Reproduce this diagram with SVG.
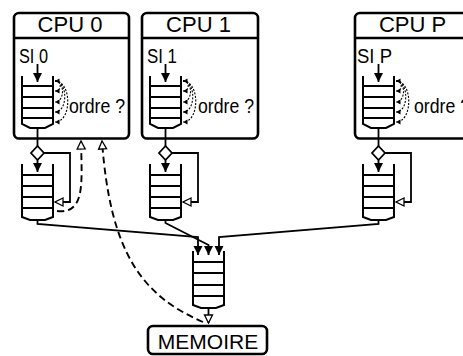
<svg xmlns="http://www.w3.org/2000/svg" width="463" height="356" viewBox="0 0 463 356">
<defs>
<style>
.box{fill:#fff;stroke:#000;stroke-width:2.6}
.sep{stroke:#000;stroke-width:2.6}
.q{fill:none;stroke:#000;stroke-width:2;stroke-linejoin:miter}
.ln{fill:none;stroke:#000;stroke-width:1.8}
.dash{fill:none;stroke:#000;stroke-width:1.9;stroke-dasharray:7,4}
.dot{fill:none;stroke:#000;stroke-width:1.1;stroke-dasharray:2,1.5}
.dia{fill:#fff;stroke:#000;stroke-width:1.8}
.t{font-family:"Liberation Sans",Arial,sans-serif;fill:#000}
.big{font-size:22px}
.si{font-size:20.5px}
.or{font-size:20px}
</style>
<marker id="fa" markerUnits="userSpaceOnUse" markerWidth="10" markerHeight="10" refX="9" refY="4.5" orient="auto" overflow="visible"><path d="M0,0 L9,4.5 L0,9 z" fill="#000"/></marker>
<marker id="oa" markerUnits="userSpaceOnUse" markerWidth="10" markerHeight="10" refX="8" refY="4" orient="auto" overflow="visible"><path d="M0,0 L8,4 L0,8 z" fill="#fff" stroke="#000" stroke-width="1.3"/></marker>
<marker id="da" markerUnits="userSpaceOnUse" markerWidth="6" markerHeight="6" refX="4.5" refY="2.5" orient="auto-start-reverse" overflow="visible"><path d="M0,0 L4.5,2.5 L0,5 z" fill="#000"/></marker>
<g id="cpu-content">
<path class="q" d="M22,76 V124 L30,128 H45 L53,124 V76"/>
<path class="q" d="M22,86 H53 M22,97 H53 M22,108 H53 M22,118 H53"/>
<path class="ln" d="M37.5,64 V82" marker-end="url(#fa)"/>
<path class="dot" d="M55,81 C62,81 62,91 55,91" marker-start="url(#da)" marker-end="url(#da)"/>
<path class="dot" d="M55,81 C65,81 65,102 55,102" marker-end="url(#da)"/>
<path class="dot" d="M55,81 C68,81 68,112 55,112" marker-end="url(#da)"/>
<path class="dot" d="M55,81 C72,81 72,122 55,122" marker-end="url(#da)"/>
</g>
<g id="lq-content">
<path class="q" d="M22,164 V217 L30,220 H45 L53,217 V164"/>
<path class="q" d="M22,175 H53 M22,186 H53 M22,197 H53 M22,208 H53"/>
</g>
</defs>

<g id="cpu0">
<rect class="box" x="14" y="13" width="115" height="125.5" rx="5"/>
<line class="sep" x1="14" y1="38" x2="129" y2="38"/>
<text class="t big" x="70" y="32" text-anchor="middle">CPU 0</text>
<text class="t si" x="19" y="63" textLength="29" lengthAdjust="spacingAndGlyphs">SI 0</text>
<use href="#cpu-content"/>
<text class="t or" x="69" y="113" textLength="56" lengthAdjust="spacingAndGlyphs">ordre ?</text>
</g>

<g id="cpu1">
<rect class="box" x="142" y="13" width="116" height="125.5" rx="5"/>
<line class="sep" x1="142" y1="38" x2="258" y2="38"/>
<text class="t big" x="198.5" y="32" text-anchor="middle">CPU 1</text>
<text class="t si" x="147" y="63" textLength="30" lengthAdjust="spacingAndGlyphs">SI 1</text>
<use href="#cpu-content" transform="translate(128,0)"/>
<text class="t or" x="198" y="113" textLength="56" lengthAdjust="spacingAndGlyphs">ordre ?</text>
</g>

<g id="cpuP">
<rect class="box" x="355" y="13" width="116" height="125.5" rx="5"/>
<line class="sep" x1="355" y1="38" x2="471" y2="38"/>
<text class="t big" x="412.5" y="32" text-anchor="middle">CPU P</text>
<text class="t si" x="357" y="63" textLength="35" lengthAdjust="spacingAndGlyphs">SI P</text>
<use href="#cpu-content" transform="translate(341,0)"/>
<text class="t or" x="414" y="113" textLength="56" lengthAdjust="spacingAndGlyphs">ordre ?</text>
</g>

<g id="queue0"><use href="#lq-content"/></g>
<g id="queue1"><use href="#lq-content" transform="translate(128,0)"/></g>
<g id="queueP"><use href="#lq-content" transform="translate(341,0)"/></g>

<g id="queueM">
<path class="q" d="M193,251 V305 L201,308 H216 L224,305 V251"/>
<path class="q" d="M193,262 H224 M193,273 H224 M193,285 H224 M193,296 H224"/>
</g>

<g id="memoire">
<rect class="box" x="148" y="326" width="119" height="28" rx="5"/>
<text class="t" font-size="21" x="208" y="349" text-anchor="middle">MEMOIRE</text>
</g>

<g id="connectors">
<path class="ln" d="M37.5,128 V146"/>
<path class="ln" d="M37.5,160 V172" marker-end="url(#fa)"/>
<path class="ln" d="M44,153 H70 V202 H55" marker-end="url(#oa)"/>
<polygon class="dia" points="37.5,146 44,153 37.5,160 31,153"/>
<path class="ln" d="M165.5,128 V146"/>
<path class="ln" d="M165.5,160 V172" marker-end="url(#fa)"/>
<path class="ln" d="M172,153 H198 V202 H183" marker-end="url(#oa)"/>
<polygon class="dia" points="165.5,146 172,153 165.5,160 159,153"/>
<path class="ln" d="M378.5,128 V146"/>
<path class="ln" d="M378.5,160 V172" marker-end="url(#fa)"/>
<path class="ln" d="M385,153 H411 V202 H396" marker-end="url(#oa)"/>
<polygon class="dia" points="378.5,146 385,153 378.5,160 372,153"/>
<path class="ln" d="M37.5,220 V224 L198,237 V255" marker-end="url(#fa)"/>
<path class="ln" d="M165.5,220 V223 L208.5,245 V255" marker-end="url(#fa)"/>
<path class="ln" d="M378.5,220 V224 L219,237 V255" marker-end="url(#fa)"/>
<path class="ln" d="M208.5,308 V323" marker-end="url(#oa)"/>
<path class="dash" d="M57,211 C85,214 82,185 81,141" marker-end="url(#oa)"/>
<path class="dash" d="M203,322 C140,295 110,250 102,141" marker-end="url(#oa)"/>
</g>
</svg>
